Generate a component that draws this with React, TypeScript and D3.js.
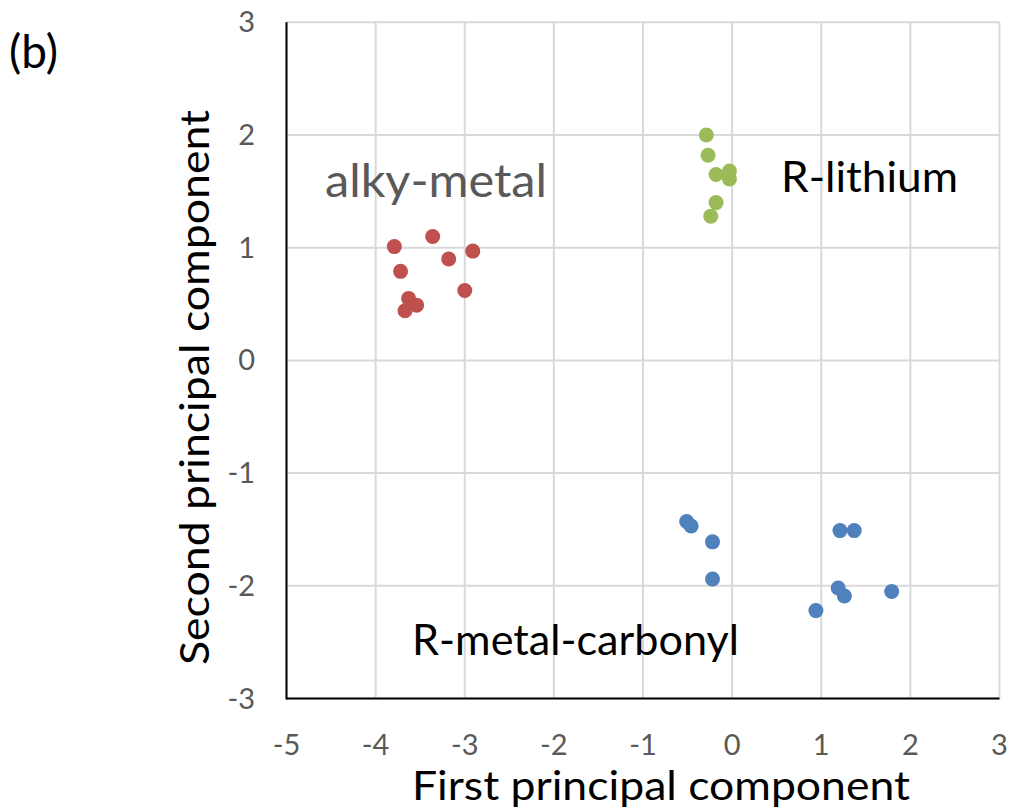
import React from 'react';
import * as d3 from 'd3';

// PCA scores
const alkylMetalX = [-3.79, -3.36, -3.18, -2.91, -3.72, -3.0, -3.63, -3.54, -3.67];
const alkylMetalY = [1.01, 1.1, 0.9, 0.97, 0.79, 0.62, 0.55, 0.49, 0.44];
const rLithiumX = [-0.29, -0.27, -0.18, -0.03, -0.03, -0.18, -0.24];
const rLithiumY = [2.0, 1.82, 1.65, 1.68, 1.61, 1.4, 1.28];
const rCarbonylX = [-0.51, -0.46, -0.22, -0.22, 1.21, 1.37, 1.19, 1.26, 1.79, 0.94];
const rCarbonylY = [-1.43, -1.47, -1.61, -1.94, -1.51, -1.51, -2.02, -2.09, -2.05, -2.22];

const xTicks = [-5, -4, -3, -2, -1, 0, 1, 2, 3];
const yTicks = [-3, -2, -1, 0, 1, 2, 3];

const series = [
  { name: 'alky-metal', xs: alkylMetalX, ys: alkylMetalY, color: '#C0504D' },
  { name: 'R-lithium', xs: rLithiumX, ys: rLithiumY, color: '#9BBB59' },
  { name: 'R-metal-carbonyl', xs: rCarbonylX, ys: rCarbonylY, color: '#4F81BD' },
];

const W = 1011;
const H = 811;
const font = 'Lato, Carlito, Calibri, "Open Sans", sans-serif';

const App: React.FC = () => {
  const x = d3.scaleLinear().domain([-5, 3]).range([286.5, 999.5]);
  const y = d3.scaleLinear().domain([-3, 3]).range([698.5, 22.3]);

  return (
    <div style={{ position: 'absolute', left: 0, top: 0 }}>
      <svg width={W} height={H} style={{ display: 'block', background: '#fff' }}>
        {/* grid */}
        {xTicks.map(t => (
          <line key={'gx' + t} x1={x(t)} x2={x(t)} y1={y(3)} y2={y(-3)} stroke="#d9d9d9" strokeWidth={2} />
        ))}
        {yTicks.map(t => (
          <line key={'gy' + t} x1={x(-5)} x2={x(3)} y1={y(t)} y2={y(t)} stroke="#d9d9d9" strokeWidth={2} />
        ))}
        {/* axes */}
        <line x1={x(-5)} x2={x(-5)} y1={y(3)} y2={y(-3) + 1} stroke="#000" strokeWidth={2} />
        <line x1={x(-5)} x2={x(3)} y1={y(-3)} y2={y(-3)} stroke="#000" strokeWidth={2} />

        {/* tick labels */}
        {xTicks.map(t => (
          <text key={'tx' + t} x={x(t)} y={755} textAnchor="middle" fontFamily={font} fontSize={29} fill="#595959">
            {t}
          </text>
        ))}
        {yTicks.map(t => (
          <text key={'ty' + t} x={255} y={y(t) + 10} textAnchor="end" fontFamily={font} fontSize={29} fill="#595959">
            {t}
          </text>
        ))}

        {/* points */}
        {series.map(s => (
          <g key={s.name}>
            {s.xs.map((v, i) => (
              <circle key={i} cx={x(v)} cy={y(s.ys[i])} r={7.5} fill={s.color} />
            ))}
          </g>
        ))}

        {/* cluster labels */}
        <text x={325} y={197} fontFamily={font} fontSize={46} fill="#595959" textLength={222} lengthAdjust="spacingAndGlyphs">
          alky-metal
        </text>
        <text x={781} y={192} fontFamily={font} fontSize={42} fill="#000" textLength={177} lengthAdjust="spacingAndGlyphs">
          R-lithium
        </text>
        <text x={412} y={655} fontFamily={font} fontSize={42} fill="#000" textLength={327} lengthAdjust="spacingAndGlyphs">
          R-metal-carbonyl
        </text>

        {/* axis titles */}
        <text x={412} y={800} fontFamily={font} fontSize={40} fill="#000" textLength={498} lengthAdjust="spacingAndGlyphs">
          First principal component
        </text>
        <text
          transform={`translate(209,665) rotate(-90)`}
          fontFamily={font}
          fontSize={40}
          fill="#000"
          textLength={555}
          lengthAdjust="spacingAndGlyphs"
        >
          Second principal component
        </text>

        <text x={9} y={68} fontFamily={font} fontSize={46} fill="#000">
          (b)
        </text>
      </svg>
    </div>
  );
};

export default App;
